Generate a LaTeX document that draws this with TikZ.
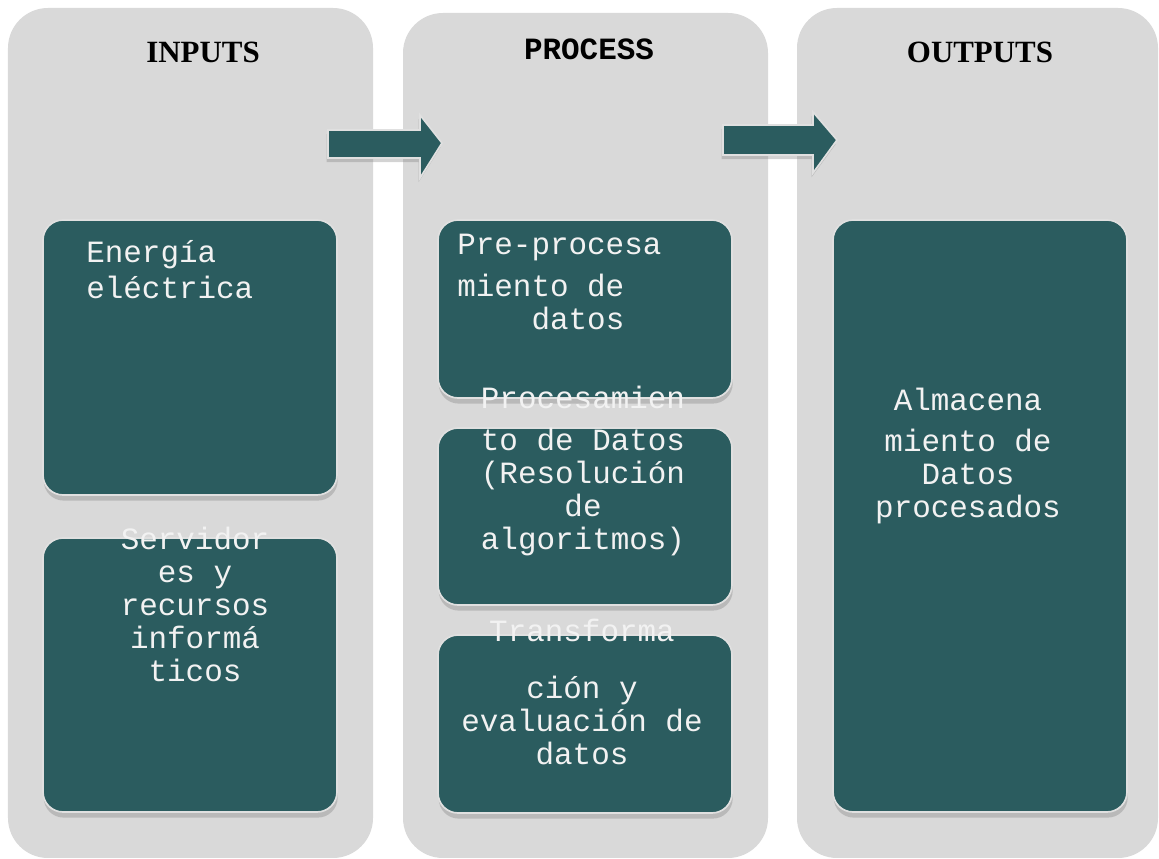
\documentclass[tikz,border=0pt]{standalone}
\usepackage{fontspec}
\setmainfont{Liberation Serif}
\setmonofont{Liberation Mono}
\usetikzlibrary{shadows}

\definecolor{colgray}{HTML}{D9D9D9}
\definecolor{boxteal}{HTML}{2B5C5F}

\begin{document}
\begin{tikzpicture}[
    column/.style={fill=colgray, rounded corners=1cm},
    tealbox/.style={fill=boxteal, draw=white!88!black, line width=1.2pt, rounded corners=0.5cm,
      drop shadow={shadow xshift=0.5pt, shadow yshift=-4pt, opacity=0.35}},
    bigarrow/.style={fill=boxteal, draw=white!88!black, line width=1.2pt,
      drop shadow={shadow xshift=-1pt, shadow yshift=-3pt, opacity=0.35}},
    head/.style={font=\fontsize{22}{26}\selectfont\bfseries, anchor=base},
    boxtext/.style={font=\ttfamily\fontsize{22}{23.5}\selectfont, text=white!95!black, inner sep=0pt, anchor=base}
  ]
  \useasboundingbox (0,0) rectangle (28.975,21.475);

  % Spalten
  \fill[column] (0.2,0.025) rectangle (9.325,21.275);
  \fill[column] (10.075,0.025) rectangle (19.2,21.15);
  \fill[column] (19.925,0.025) rectangle (28.95,21.275);

  \node[head] (inputs) at (5.075,19.9) {INPUTS};
  \node[head, font=\ttfamily\bfseries\fontsize{22}{26}\selectfont] (process) at (14.725,19.975) {PROCESS};
  \node[head] (outputs) at (24.5,19.9) {OUTPUTS};

  % Pfeile
  \draw[bigarrow] (8.2,17.525) -- (10.5,17.525) -- (10.5,17.025) -- (11.05,17.9)
    -- (10.5,18.6) -- (10.5,18.225) -- (8.2,18.225) -- cycle;
  \draw[bigarrow] (18.075,17.6) -- (20.325,17.6) -- (20.325,17.15) -- (20.925,17.975)
    -- (20.325,18.675) -- (20.325,18.35) -- (18.075,18.35) -- cycle;

  % Kaesten
  \draw[tealbox] (1.075,9.1) rectangle (8.425,15.975);
  \draw[tealbox] (1.075,1.175) rectangle (8.425,8.025);
  \draw[tealbox] (10.95,11.525) rectangle (18.3,15.975);
  \draw[tealbox] (10.95,6.35) rectangle (18.3,10.775);
  \draw[tealbox] (10.95,1.15) rectangle (18.3,5.6);
  \draw[tealbox] (20.825,1.175) rectangle (28.175,15.975);

  % Inhalt (base = letzte Zeile)
  \node[boxtext, align=left, anchor=base west] (energia) at (2.15,14.0) {Energía\\[2.8pt]eléctrica};
  \node[boxtext, align=center] (servidores) at (4.875,4.425) {Servidor\\es y\\recursos\\informá\\ticos};
  \node[boxtext, align=left, anchor=base west] (preproc) at (11.425,13.225) {Pre-procesa\\[7pt]miento de\\\phantom{mien}datos};
  \node[boxtext, align=center] (proc) at (14.575,7.725) {Procesamien\\[6.4pt]to de Datos\\(Resolución\\de\\algoritmos)};
  \node[boxtext, align=center] (transf) at (14.55,2.35) {Transforma\\[17pt]ción y\\evaluación de\\datos};
  \node[boxtext, align=center] (almacena) at (24.2,8.525) {Almacena\\[6pt]miento de\\Datos\\procesados};

\end{tikzpicture}
\end{document}
